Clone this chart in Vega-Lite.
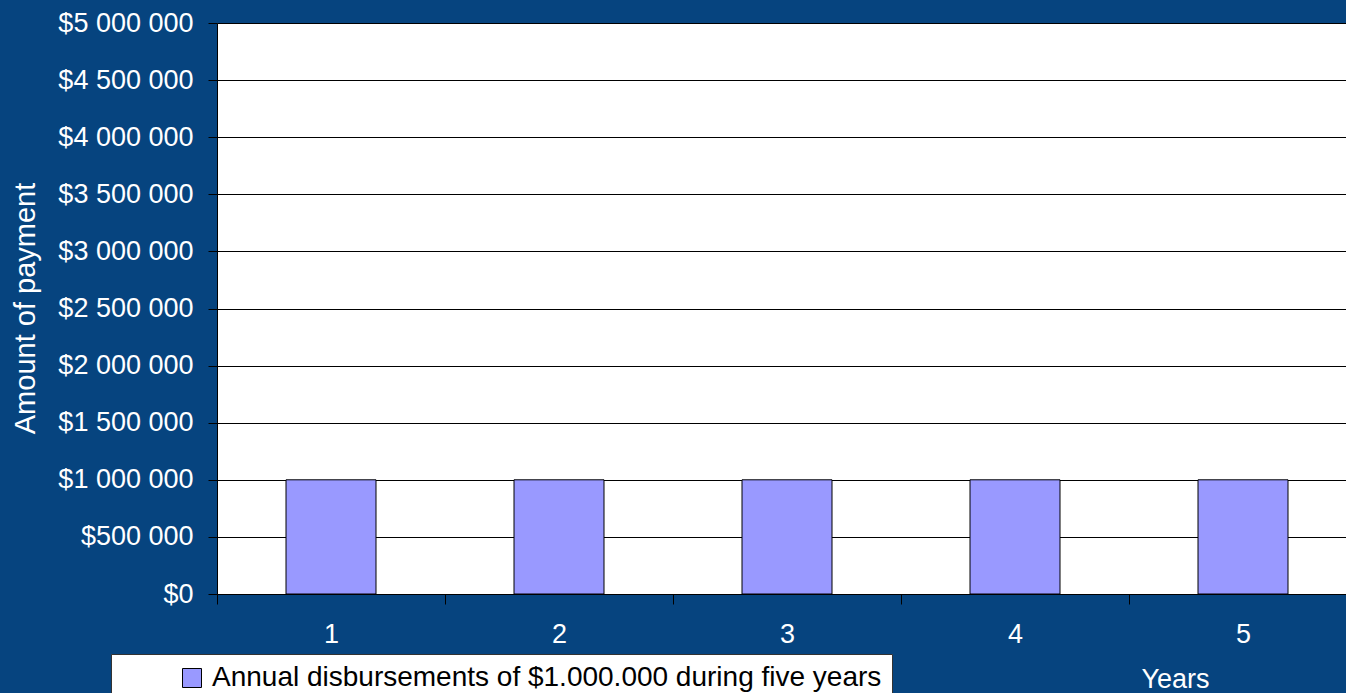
{
  "$schema": "https://vega.github.io/schema/vega-lite/v6.json",
  "autosize": {"type": "none"},
  "padding": {"left": 217, "top": 23, "right": 0, "bottom": 99},
  "width": 1129,
  "height": 571,
  "background": "#06447f",
  "config": {
    "font": "Liberation Sans",
    "locale": {"number": {"decimal": ".", "thousands": " ", "grouping": [3], "currency": ["$", ""]}},
    "view": {"fill": "white", "stroke": "#888888", "strokeWidth": 1}
  },
  "data": {
    "values": [
      {"year": "1", "amount": 1000000, "series": "Annual disbursements of $1.000.000 during five years"},
      {"year": "2", "amount": 1000000, "series": "Annual disbursements of $1.000.000 during five years"},
      {"year": "3", "amount": 1000000, "series": "Annual disbursements of $1.000.000 during five years"},
      {"year": "4", "amount": 1000000, "series": "Annual disbursements of $1.000.000 during five years"},
      {"year": "5", "amount": 1000000, "series": "Annual disbursements of $1.000.000 during five years"}
    ]
  },
  "mark": {"type": "bar", "size": 90, "stroke": "black", "strokeWidth": 1},
  "encoding": {
    "x": {
      "field": "year", "type": "ordinal",
      "scale": {"paddingInner": 0, "paddingOuter": 0, "range": [0, 1140]},
      "axis": {
        "title": "Years", "titleColor": "white", "titleFontSize": 27, "titleFontWeight": "normal",
        "titleX": 958, "titleY": 85, "titleBaseline": "middle", "titleAnchor": null,
        "labelAngle": 0, "labelColor": "white", "labelFontSize": 27, "labelPadding": 17,
        "tickBand": "extent", "tickColor": "black", "tickSize": 10, "domainColor": "black", "grid": false
      }
    },
    "y": {
      "field": "amount", "type": "quantitative",
      "scale": {"domain": [0, 5000000]},
      "axis": {
        "title": "Amount of payment", "titleColor": "white", "titleFontSize": 29, "titleFontWeight": "normal",
        "titleX": -192, "titleY": 285, "titleBaseline": "middle", "titleAngle": 270,
        "values": [0, 500000, 1000000, 1500000, 2000000, 2500000, 3000000, 3500000, 4000000, 4500000, 5000000],
        "format": "$,.0f", "labelColor": "white", "labelFontSize": 27, "labelPadding": 15,
        "tickColor": "black", "tickSize": 9, "domainColor": "black",
        "grid": true, "gridColor": "black", "gridOpacity": 1, "gridWidth": 1
      }
    },
    "color": {
      "field": "series", "type": "nominal",
      "scale": {"range": ["#9999ff"]},
      "legend": {
        "title": null, "orient": "none", "legendX": -106, "legendY": 631,
        "fillColor": "white", "strokeColor": "#333333", "padding": 10,
        "symbolType": "square", "symbolSize": 361, "symbolStrokeColor": "black", "symbolStrokeWidth": 1,
        "symbolOffset": 57, "labelFontSize": 28, "labelColor": "black", "labelOffset": 6, "labelLimit": 1000
      }
    }
  }
}
